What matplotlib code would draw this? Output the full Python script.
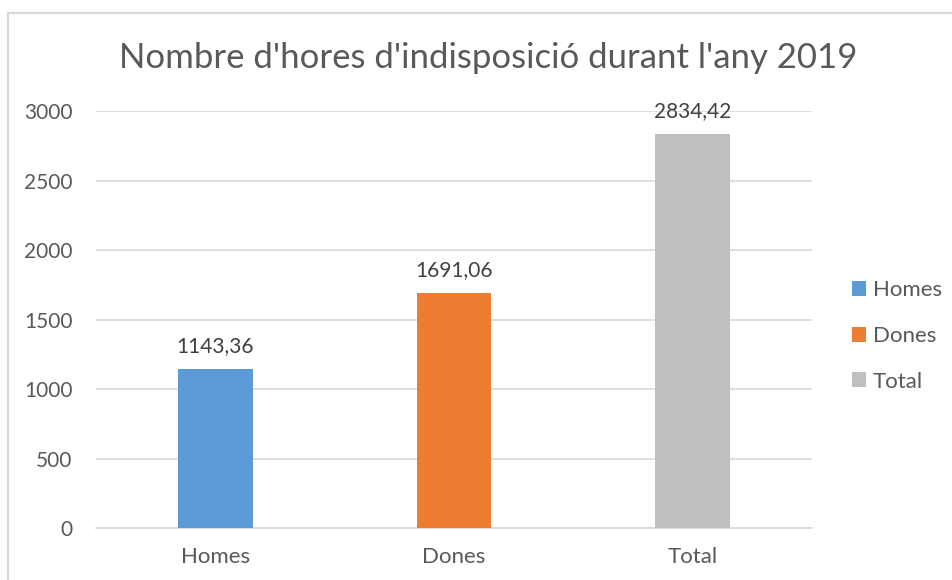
import matplotlib.pyplot as plt
from matplotlib.patches import Rectangle

# data
categories = ["Homes", "Dones", "Total"]
hours = [1143.36, 1691.06, 2834.42]
colors = ["#5B9BD5", "#ED7D31", "#BFBFBF"]
yticks = [0, 500, 1000, 1500, 2000, 2500, 3000]

plt.rcParams['font.family'] = ['Lato', 'DejaVu Sans']

fig = plt.figure(figsize=(9.53, 5.8), dpi=100)
ax = fig.add_axes([96/953, 1 - 528/580, (812 - 96)/953, (528 - 111)/580])

x = range(len(categories))
bars = ax.bar(x, hours, width=0.314, color=colors, zorder=3)

for b, v in zip(bars, hours):
    ax.annotate(f"{v:.2f}".replace(".", ","), (b.get_x() + b.get_width()/2, v),
                xytext=(0, 9), textcoords="offset points", ha="center", va="bottom",
                fontsize=15, color="#404040", zorder=4)

ax.set_xlim(-0.5, 2.5)
ax.set_ylim(0, 3000)
ax.set_yticks(yticks)
ax.set_xticks(list(x))
ax.set_xticklabels(categories)
ax.yaxis.grid(True, color="#D9D9D9", linewidth=1.2, zorder=0)
ax.tick_params(axis="both", length=0, colors="#595959")
ax.tick_params(axis="y", pad=17, labelsize=15)
ax.tick_params(axis="x", pad=14, labelsize=16)
for s in ["top", "right", "left"]:
    ax.spines[s].set_visible(False)
ax.spines["bottom"].set_color("#D9D9D9")
ax.spines["bottom"].set_linewidth(1.2)

fig.text(488/953, 1 - 58/580, "Nombre d'hores d'indisposició durant l'any 2019",
         ha="center", va="center", fontsize=25, color="#595959")

# legend
fig.legend(bars, categories, loc="center left", bbox_to_anchor=(832/953, 1 - 336/580),
           frameon=False, fontsize=16, labelcolor="#595959", handlelength=0.65,
           handleheight=0.65, handletextpad=0.3, labelspacing=1.15)

# chart border (clipped by the image edges)
fig.patches.append(Rectangle((8/953, -0.1), 1.2, 1 - 13/580 + 0.1, transform=fig.transFigure,
                             fill=False, edgecolor="#D9D9D9", linewidth=1.5))

fig.savefig("out.png", dpi=100)
